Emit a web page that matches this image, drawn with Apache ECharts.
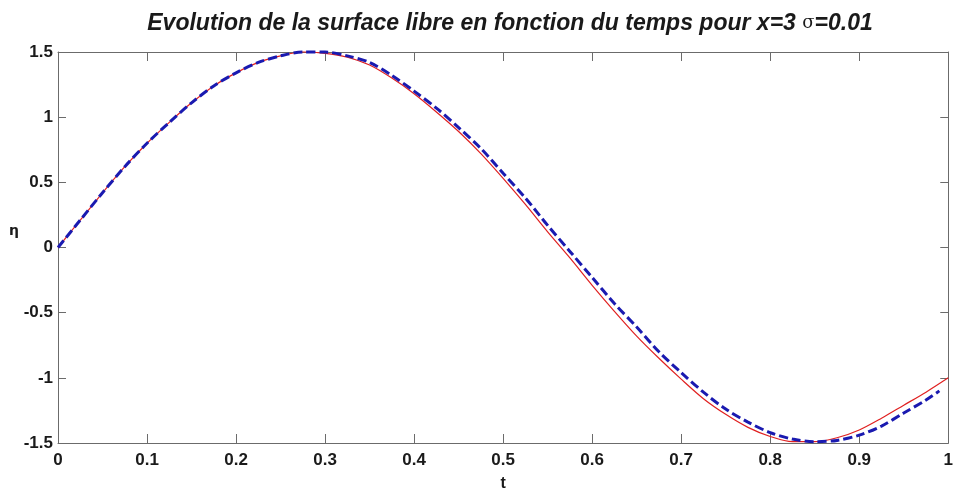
<!DOCTYPE html>
<html>
<head>
<meta charset="utf-8">
<script src="https://cdn.jsdelivr.net/npm/echarts@6/dist/echarts.min.js"></script>
<style>
  html, body { margin: 0; padding: 0; background: #fff; }
  #chart { width: 956px; height: 497px; }
</style>
</head>
<body>
<div id="chart"></div>
<script>
// Time samples (s) and free-surface elevation eta at x = 3
const tRed = [0, 0.025, 0.05, 0.075, 0.10, 0.125, 0.15, 0.175, 0.20, 0.225, 0.25,
              0.275, 0.30, 0.325, 0.35, 0.375, 0.40, 0.425, 0.45, 0.475, 0.50,
              0.525, 0.55, 0.575, 0.60, 0.625, 0.65, 0.675, 0.70, 0.725, 0.75,
              0.775, 0.80, 0.825, 0.85, 0.875, 0.90, 0.925, 0.95, 0.975, 1.00];
const etaRed = [0, 0.21, 0.42, 0.62, 0.80, 0.96, 1.11, 1.24, 1.34, 1.42, 1.47,
                1.50, 1.49, 1.46, 1.40, 1.30, 1.18, 1.04, 0.89, 0.72, 0.53,
                0.33, 0.12, -0.08, -0.29, -0.49, -0.68, -0.85, -1.01, -1.16, -1.28,
                -1.38, -1.45, -1.49, -1.49, -1.46, -1.40, -1.31, -1.21, -1.11, -1.00];

const tBlue = [0, 0.025, 0.05, 0.075, 0.10, 0.125, 0.15, 0.175, 0.20, 0.225, 0.25,
               0.275, 0.30, 0.325, 0.35, 0.375, 0.40, 0.425, 0.45, 0.475, 0.50,
               0.525, 0.55, 0.575, 0.60, 0.625, 0.65, 0.675, 0.70, 0.725, 0.75,
               0.775, 0.80, 0.825, 0.85, 0.875, 0.90, 0.925, 0.95, 0.975, 0.99];
const etaBlue = [0, 0.21, 0.42, 0.62, 0.80, 0.96, 1.11, 1.24, 1.34, 1.42, 1.47,
                 1.50, 1.50, 1.47, 1.42, 1.32, 1.20, 1.07, 0.92, 0.76, 0.57,
                 0.38, 0.17, -0.03, -0.23, -0.43, -0.61, -0.80, -0.96, -1.11, -1.24,
                 -1.34, -1.42, -1.47, -1.49, -1.48, -1.44, -1.37, -1.27, -1.17, -1.10];

const xTicks = { min: 0, max: 1, interval: 0.1 };
const yTicks = { min: -1.5, max: 1.5, interval: 0.5 };

const pairs = (xs, ys) => xs.map((x, i) => [x, ys[i]]);

const FONT = '"Liberation Sans", Arial, sans-serif';
const AXIS_COLOR = '#6b6b6b';

const chart = echarts.init(document.getElementById('chart'), null, { renderer: 'canvas' });

const baseAxis = {
  axisLine: { show: true, onZero: false, lineStyle: { color: AXIS_COLOR, width: 1 } },
  splitLine: { show: false },
  axisTick: { show: true, inside: true, length: 9, lineStyle: { color: AXIS_COLOR } }
};

chart.setOption({
  animation: false,
  backgroundColor: '#ffffff',
  title: {
    text: 'Evolution de la surface libre en fonction du temps pour x=3 {s|σ}=0.01',
    left: 505,
    textAlign: 'center',
    top: 7,
    textStyle: {
      fontFamily: FONT,
      fontSize: 23,
      fontWeight: 'bold',
      fontStyle: 'italic',
      color: '#1a1a1a',
      rich: {
        s: { fontFamily: '"DejaVu Serif", serif', fontSize: 18, fontStyle: 'normal', fontWeight: 'normal', color: '#1a1a1a' }
      }
    }
  },
  grid: { left: 58, right: 3, top: 52, bottom: 50, containLabel: false },
  xAxis: [
    Object.assign({}, baseAxis, {
      type: 'value', position: 'bottom',
      min: xTicks.min, max: xTicks.max, interval: xTicks.interval,
      name: 't', nameLocation: 'middle', nameGap: 33,
      nameTextStyle: { fontFamily: FONT, fontSize: 16, fontWeight: 'bold', color: '#1a1a1a' },
      axisLabel: { margin: 9, fontFamily: FONT, fontSize: 17, fontWeight: 'bold', color: '#1a1a1a' }
    }),
    Object.assign({}, baseAxis, {
      type: 'value', position: 'top',
      min: xTicks.min, max: xTicks.max, interval: xTicks.interval,
      axisLabel: { show: false }
    })
  ],
  yAxis: [
    Object.assign({}, baseAxis, {
      type: 'value', position: 'left',
      min: yTicks.min, max: yTicks.max, interval: yTicks.interval,
      axisTick: { show: true, inside: true, length: 8, lineStyle: { color: AXIS_COLOR } },
      axisLabel: { margin: 5, fontFamily: FONT, fontSize: 17, fontWeight: 'bold', color: '#1a1a1a' }
    }),
    Object.assign({}, baseAxis, {
      type: 'value', position: 'right',
      min: yTicks.min, max: yTicks.max, interval: yTicks.interval,
      axisTick: { show: true, inside: true, length: 8, lineStyle: { color: AXIS_COLOR } },
      axisLabel: { show: false }
    })
  ],
  graphic: [
    {
      type: 'text',
      left: 9, top: 224,
      style: { text: 'η', fontFamily: '"DejaVu Sans", sans-serif', fontSize: 14, fontWeight: 'bold', fill: '#1a1a1a' }
    }
  ],
  series: [
    {
      name: 'eta',
      type: 'line',
      xAxisIndex: 0, yAxisIndex: 0,
      data: pairs(tRed, etaRed),
      smooth: 0.3,
      showSymbol: false,
      clip: false,
      lineStyle: { color: '#e02020', width: 1.2 },
      z: 2
    },
    {
      name: 'eta approx',
      type: 'line',
      xAxisIndex: 0, yAxisIndex: 0,
      data: pairs(tBlue, etaBlue),
      smooth: 0.3,
      showSymbol: false,
      clip: false,
      lineStyle: { color: '#1a1ab0', width: 3, type: [9, 4] },
      z: 3
    }
  ]
});
</script>
</body>
</html>
